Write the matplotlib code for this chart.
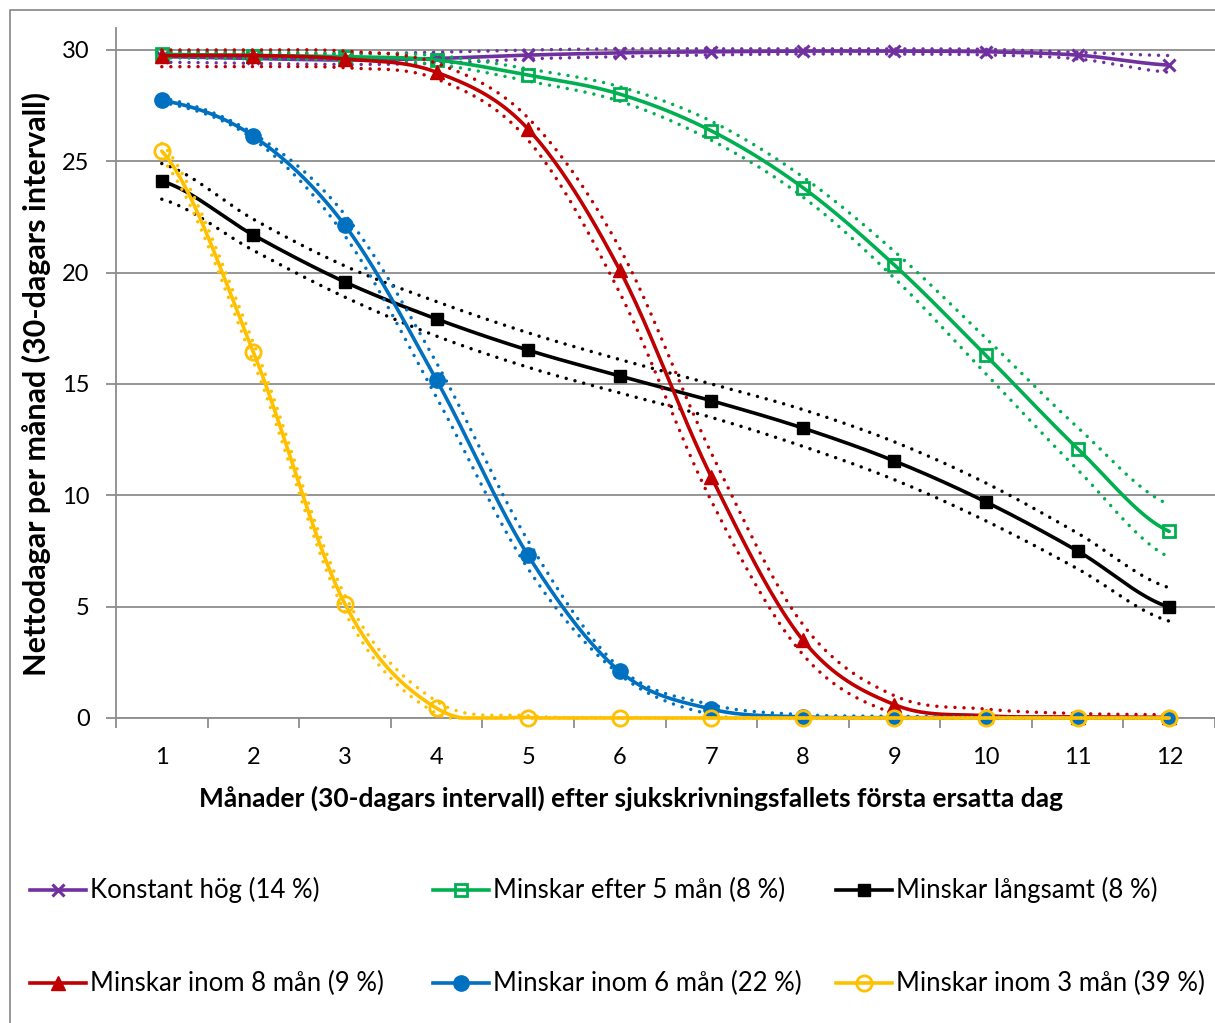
import matplotlib
matplotlib.use("Agg")
import matplotlib.pyplot as plt
import numpy as np
from matplotlib.lines import Line2D
from matplotlib.patches import Rectangle

plt.rcParams["font.family"] = ["Lato", "DejaVu Sans"]

months = list(range(1, 13))

labels = [
    "Konstant hög (14 %)",
    "Minskar efter 5 mån (8 %)",
    "Minskar långsamt (8 %)",
    "Minskar inom 8 mån (9 %)",
    "Minskar inom 6 mån (22 %)",
    "Minskar inom 3 mån (39 %)",
]

konstant = [29.70, 29.62, 29.55, 29.62, 29.77, 29.87, 29.92, 29.95, 29.95, 29.92, 29.77, 29.32]
konstant_hi = [29.90, 29.85, 29.82, 29.90, 30.00, 30.05, 30.05, 30.05, 30.05, 30.03, 29.90, 29.75]
konstant_lo = [29.45, 29.40, 29.35, 29.40, 29.60, 29.70, 29.78, 29.82, 29.82, 29.78, 29.60, 29.00]

efter5 = [29.80, 29.75, 29.70, 29.55, 28.87, 28.02, 26.37, 23.82, 20.34, 16.28, 12.10, 8.38]
efter5_hi = [29.95, 29.90, 29.85, 29.75, 29.15, 28.35, 26.80, 24.30, 20.95, 17.05, 13.05, 9.58]
efter5_lo = [29.65, 29.60, 29.55, 29.35, 28.60, 27.70, 25.95, 23.40, 19.75, 15.45, 11.15, 7.22]

langsamt = [24.11, 21.69, 19.58, 17.92, 16.52, 15.36, 14.25, 13.02, 11.54, 9.70, 7.50, 4.98]
langsamt_hi = [24.90, 22.40, 20.30, 18.70, 17.30, 16.10, 15.00, 13.85, 12.40, 10.55, 8.30, 5.85]
langsamt_lo = [23.30, 21.00, 18.90, 17.15, 15.75, 14.60, 13.50, 12.20, 10.70, 8.85, 6.70, 4.35]

inom8 = [29.75, 29.75, 29.60, 29.00, 26.45, 20.12, 10.83, 3.50, 0.60, 0.10, 0.05, 0.03]
inom8_hi = [30.00, 30.00, 29.95, 29.40, 26.95, 21.10, 11.90, 4.20, 1.00, 0.40, 0.20, 0.15]
inom8_lo = [29.25, 29.25, 29.20, 28.70, 25.95, 19.10, 9.75, 2.85, 0.20, 0.00, 0.00, 0.00]

inom6 = [27.75, 26.13, 22.12, 15.18, 7.30, 2.10, 0.40, 0.05, 0.02, 0.01, 0.00, 0.00]
inom6_hi = [27.85, 26.25, 22.60, 15.95, 7.95, 2.25, 0.60, 0.15, 0.08, 0.05, 0.03, 0.03]
inom6_lo = [27.65, 26.00, 21.65, 14.40, 6.70, 1.95, 0.15, 0.00, 0.00, 0.00, 0.00, 0.00]

inom3 = [25.46, 16.43, 5.12, 0.44, 0.02, 0.00, 0.00, 0.00, 0.00, 0.00, 0.00, 0.00]
inom3_hi = [25.80, 16.85, 5.50, 0.75, 0.10, 0.02, 0.00, 0.00, 0.00, 0.00, 0.00, 0.00]
inom3_lo = [25.10, 16.00, 4.75, 0.20, 0.00, 0.00, 0.00, 0.00, 0.00, 0.00, 0.00, 0.00]

colors = ["#7030A0", "#00B050", "#000000", "#C00000", "#0070C0", "#FFC000"]
styles = [
    dict(marker="x", ms=9, mew=2.2, mfc="#7030A0"),
    dict(marker="s", ms=9, mew=2.0, mfc="none"),
    dict(marker="s", ms=9, mew=1.0, mfc="#000000"),
    dict(marker="^", ms=10, mew=1.0, mfc="#C00000"),
    dict(marker="o", ms=11, mew=1.0, mfc="#0070C0"),
    dict(marker="o", ms=11, mew=2.0, mfc="none"),
]
series = [
    (konstant, konstant_lo, konstant_hi),
    (efter5, efter5_lo, efter5_hi),
    (langsamt, langsamt_lo, langsamt_hi),
    (inom8, inom8_lo, inom8_hi),
    (inom6, inom6_lo, inom6_hi),
    (inom3, inom3_lo, inom3_hi),
]


def smooth(x, y, n=40):
    # Catmull-Rom style curve through the points, like a smoothed Excel line
    x = np.asarray(x, float)
    y = np.asarray(y, float)
    m = np.empty_like(y)
    m[1:-1] = (y[2:] - y[:-2]) / 2
    m[0] = (y[1] - y[0]) / 2
    m[-1] = (y[-1] - y[-2]) / 2
    t = np.linspace(0, 1, n)
    h00 = 2 * t**3 - 3 * t**2 + 1
    h10 = t**3 - 2 * t**2 + t
    h01 = -2 * t**3 + 3 * t**2
    h11 = t**3 - t**2
    xs, ys = [], []
    for i in range(len(y) - 1):
        xs.append(x[i] + t * (x[i + 1] - x[i]))
        ys.append(h00 * y[i] + h10 * m[i] + h01 * y[i + 1] + h11 * m[i + 1])
    return np.concatenate(xs), np.maximum(np.concatenate(ys), 0)


W, H = 1215, 1023
fig = plt.figure(figsize=(W / 100, H / 100), dpi=100)
fig.add_artist(Rectangle((10 / W, -0.05), 1.1, 1.05 - 10 / H, transform=fig.transFigure,
                         fill=False, edgecolor="#868686", lw=1.2))

ax = fig.add_axes([116 / W, (H - 718) / H, 1 - 116 / W, 690 / H])
ax.set_xlim(0.5, 0.5 + (W - 116) / 92)
ax.set_ylim(0, 690 / 22.267)

grid = "#8C8C8C"
ax.set_yticks(range(0, 31, 5))
ax.yaxis.grid(True, color=grid, lw=1.3)
ax.set_axisbelow(True)
ax.set_xticks(months)
ax.set_xticks(np.arange(0.5, 13, 1), minor=True)
ax.tick_params(axis="x", which="major", length=0, pad=21, labelsize=17)
ax.tick_params(axis="x", which="minor", length=7, width=1.3, color=grid, direction="out")
ax.tick_params(axis="y", length=7, width=1.3, color=grid, pad=12, labelsize=17)
for s in ["top", "right"]:
    ax.spines[s].set_visible(False)
for s in ["left", "bottom"]:
    ax.spines[s].set_color(grid)
    ax.spines[s].set_linewidth(1.3)

for i, ((mid, lo, hi), c, st) in enumerate(zip(series, colors, styles)):
    z = 3 + i
    for band in (lo, hi):
        bx, by = smooth(months, band)
        ax.plot(bx, by, color=c, lw=2.5, ls=(0, (0.01, 2.6)), dash_capstyle="round",
                zorder=z, clip_on=False)
    sx, sy = smooth(months, mid)
    ax.plot(sx, sy, color=c, lw=2.6, zorder=z, clip_on=False, solid_capstyle="round")
    ax.plot(months, mid, ls="none", color=c, mec=c, zorder=z, clip_on=False, **st)

fig.text(631 / W, (H - 798) / H,
         "Månader (30-dagars intervall) efter sjukskrivningsfallets första ersatta dag",
         fontsize=19, fontweight="bold", ha="center", va="center")
fig.text(36 / W, (H - 384) / H, "Nettodagar per månad (30-dagars intervall)", rotation=90,
         fontsize=22, fontweight="bold", ha="center", va="center")

# legend laid out in two rows of three, as Excel places it
cols = [30, 433, 836]
rows = [890, 983]
for k, (lab, c, st) in enumerate(zip(labels, colors, styles)):
    x0 = cols[k % 3]
    y = (H - rows[k // 3]) / H
    xs = [x0 / W, (x0 + 28) / W, (x0 + 56) / W]
    fig.add_artist(Line2D(xs, [y] * 3, transform=fig.transFigure, color=c, lw=2.6,
                          markevery=[1], mec=c, **st))
    fig.text((x0 + 60) / W, y, lab, fontsize=18.5, ha="left", va="center")

fig.savefig("out.png", dpi=100)
